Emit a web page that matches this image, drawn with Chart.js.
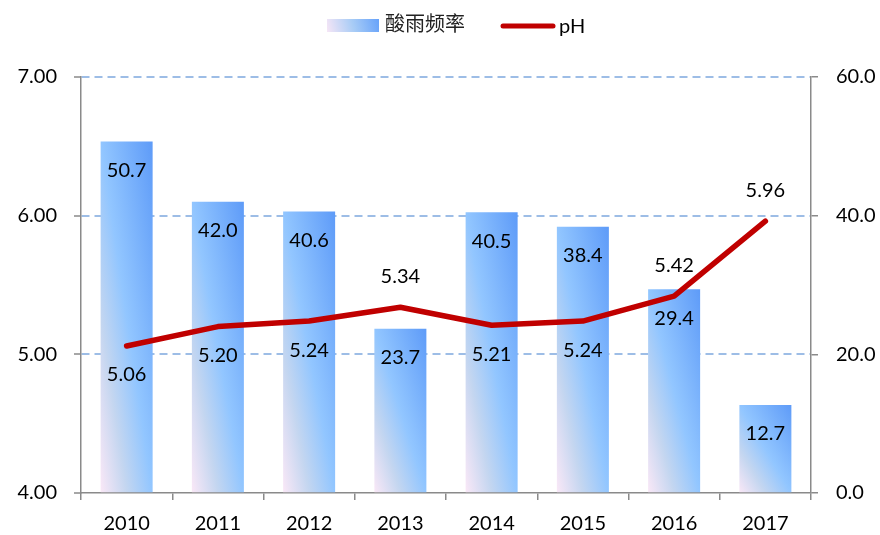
<!DOCTYPE html>
<html>
<head>
<meta charset="utf-8">
<script src="https://cdn.jsdelivr.net/npm/chart.js@4.4.1/dist/chart.umd.min.js"></script>
<style>
  html, body { margin: 0; padding: 0; background: #ffffff; }
  #wrap { width: 880px; height: 535px; }
</style>
</head>
<body>
<div id="wrap"><canvas id="c" width="880" height="535"></canvas></div>
<script>
const categories = ['2010', '2011', '2012', '2013', '2014', '2015', '2016', '2017'];
const acidRainFrequency = [50.7, 42.0, 40.6, 23.7, 40.5, 38.4, 29.4, 12.7];
const phValues = [5.06, 5.20, 5.24, 5.34, 5.21, 5.24, 5.42, 5.96];
const phLabelSide = ['below', 'below', 'below', 'above', 'below', 'below', 'above', 'above'];
const leftTicks = [4, 5, 6, 7];
const rightTicks = [0, 20, 40, 60];
const seriesNames = ['酸雨频率', 'pH'];

const FONT = 'Lato, "Noto Sans CJK SC", sans-serif';
const AXIS_GRAY = '#8a8a8a';
const BAR_PCT = 0.57;

function barGradient(ctx) {
  const chart = ctx.chart;
  const xs = chart.scales.x, ys = chart.scales.y1;
  if (!chart.chartArea || !xs || !ys || ctx.dataIndex === undefined) return '#8EC4FF';
  const v = ctx.raw;
  const cx = xs.getPixelForValue(ctx.dataIndex);
  const step = xs.getPixelForValue(1) - xs.getPixelForValue(0);
  const w = step * BAR_PCT;
  const L = cx - w / 2;
  const B = ys.getPixelForValue(0);
  const T = ys.getPixelForValue(v);
  const H = Math.max(1, B - T);
  const k = 2 * w * H / (H * H + w * w);
  const g = chart.ctx.createLinearGradient(L, B, L + H * k, B - w * k);
  g.addColorStop(0, '#FAE8F7');
  g.addColorStop(0.25, '#C4D6F0');
  g.addColorStop(0.5, '#92C6FF');
  g.addColorStop(1, '#5E9BF8');
  return g;
}

const labelPlugin = {
  id: 'valueLabels',
  afterDatasetsDraw(chart) {
    const c = chart.ctx;
    c.save();
    c.font = '20px ' + FONT;
    c.fillStyle = '#000000';
    c.textAlign = 'center';
    c.textBaseline = 'middle';
    const barMeta = chart.getDatasetMeta(0);
    barMeta.data.forEach((el, i) => {
      c.fillText(acidRainFrequency[i].toFixed(1), el.x, el.y + 29);
    });
    const lineMeta = chart.getDatasetMeta(1);
    lineMeta.data.forEach((el, i) => {
      const dy = phLabelSide[i] === 'above' ? -31 : 29;
      c.fillText(phValues[i].toFixed(2), el.x, el.y + dy);
    });
    c.restore();
  }
};

const legendPlugin = {
  id: 'customLegend',
  afterDraw(chart) {
    const c = chart.ctx;
    c.save();
    const g = c.createLinearGradient(327, 32, 379, 19);
    g.addColorStop(0, '#F6E6F6');
    g.addColorStop(0.5, '#A8CCF6');
    g.addColorStop(1, '#66A2FA');
    c.fillStyle = g;
    c.fillRect(327, 19, 52, 13);
    c.font = '20px "Noto Sans CJK SC", sans-serif';
    c.fillStyle = '#222222';
    c.textAlign = 'left';
    c.textBaseline = 'middle';
    c.fillText(chart.data.datasets[0].label, 385, 23);
    c.strokeStyle = '#C00000';
    c.lineWidth = 5;
    c.lineCap = 'round';
    c.beginPath();
    c.moveTo(503, 26);
    c.lineTo(553, 26);
    c.stroke();
    c.font = '20px ' + FONT;
    c.fillStyle = '#000000';
    c.fillText(chart.data.datasets[1].label, 559, 27);
    c.restore();
  }
};

new Chart(document.getElementById('c'), {
  data: {
    labels: categories,
    datasets: [
      {
        type: 'bar',
        label: seriesNames[0],
        data: acidRainFrequency,
        yAxisID: 'y1',
        backgroundColor: barGradient,
        borderWidth: 0,
        barPercentage: BAR_PCT,
        categoryPercentage: 1,
        order: 2
      },
      {
        type: 'line',
        label: seriesNames[1],
        data: phValues,
        yAxisID: 'y',
        borderColor: '#C00000',
        borderWidth: 5.5,
        borderCapStyle: 'round',
        borderJoinStyle: 'round',
        pointRadius: 0,
        tension: 0,
        fill: false,
        order: 1
      }
    ]
  },
  options: {
    responsive: false,
    animation: false,
    events: [],
    layout: { padding: { top: 77, left: 0, right: 0, bottom: 0 } },
    plugins: {
      legend: { display: false },
      tooltip: { enabled: false },
      title: { display: false }
    },
    scales: {
      x: {
        type: 'category',
        offset: true,
        grid: {
          offset: true,
          drawOnChartArea: false,
          drawTicks: true,
          tickLength: 7,
          color: AXIS_GRAY,
          lineWidth: 1.5
        },
        border: { display: true, color: AXIS_GRAY, width: 1.5 },
        ticks: {
          font: { family: FONT, size: 20 },
          color: '#000000',
          padding: 12,
          maxRotation: 0
        },
        afterFit(s) { s.height = 42; }
      },
      y: {
        position: 'left',
        min: 4,
        max: 7,
        afterBuildTicks(s) { s.ticks = leftTicks.map(v => ({ value: v })); },
        grid: {
          drawOnChartArea: true,
          drawTicks: true,
          tickLength: 7,
          color: (ctx) => ctx.tick && ctx.tick.value === 4 ? 'rgba(0,0,0,0)' : '#9DBDE6',
          tickColor: AXIS_GRAY,
          lineWidth: 2,
          tickWidth: 1.5,
          tickBorderDash: []
        },
        border: { display: true, color: AXIS_GRAY, width: 1.5, dash: [8, 5] },
        ticks: {
          font: { family: FONT, size: 20 },
          color: '#000000',
          padding: 17,
          callback: (v) => Number(v).toFixed(2)
        },
        afterFit(s) { s.width = 81; }
      },
      y1: {
        position: 'right',
        min: 0,
        max: 60,
        afterBuildTicks(s) { s.ticks = rightTicks.map(v => ({ value: v })); },
        grid: {
          drawOnChartArea: false,
          drawTicks: true,
          tickLength: 7,
          color: AXIS_GRAY,
          lineWidth: 1.5
        },
        border: { display: true, color: AXIS_GRAY, width: 1.5 },
        ticks: {
          font: { family: FONT, size: 20 },
          color: '#000000',
          padding: 18,
          callback: (v) => Number(v).toFixed(1)
        },
        afterFit(s) { s.width = 69; }
      }
    }
  },
  plugins: [labelPlugin, legendPlugin]
});
</script>
</body>
</html>
